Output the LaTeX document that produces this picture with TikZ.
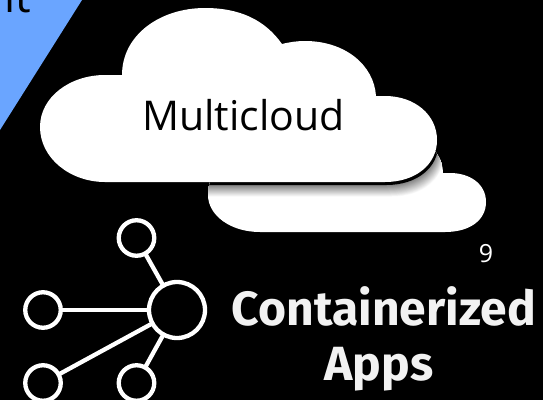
\documentclass[tikz,border=0pt]{standalone}
\usepackage{fontspec}
\setmainfont{Open Sans}
\newfontfamily\headfont{Fira Sans}
\definecolor{skyblue}{HTML}{6AA5FF}
\definecolor{headtext}{HTML}{F2F2F2}
\tikzset{
  hub/.style={circle,draw=white,line width=4.3pt,minimum size=56pt,inner sep=0pt,outer sep=0pt},
  leaf/.style={circle,draw=white,line width=4.3pt,minimum size=35.5pt,inner sep=0pt,outer sep=0pt},
  spoke/.style={draw=white,line width=4.3pt},
}
\def\backcloud{(260,232) -- (445,232) .. controls (470,232) and (486,220) .. (486,202) .. controls (486,184) and (470,173) .. (450,173) -- (443,173) .. controls (443,160) and (435,150) .. (425,140) -- (230,160) .. controls (215,170) and (208,180) .. (208,195) .. controls (208,215) and (230,232) .. (260,232) -- cycle}
\def\maincloud{(105,182) -- (385,182) .. controls (415,182) and (437,165) .. (437,140) .. controls (437,115) and (415,96) .. (385,96) -- (376,96) .. controls (374,65) and (345,41) .. (305,41) .. controls (297,41) and (290,42) .. (282,44) .. controls (265,20) and (240,8) .. (205,8) .. controls (160,8) and (122,35) .. (122,75) -- (105,75) .. controls (70,75) and (40,97) .. (40,127) .. controls (40,158) and (70,182) .. (105,182) -- cycle}
\begin{document}
\begin{tikzpicture}[x=1pt,y=-1pt]
\useasboundingbox (0,0) rectangle (543,400);
\clip (0,0) rectangle (543,400);
\fill[black] (0,0) rectangle (543,400);
\fill[skyblue] (0,0) -- (82,0) -- (0,130) -- cycle;
\node[anchor=base west,inner sep=0pt,text=black,font=\fontsize{44}{44}\selectfont] (cut) at (4,12) {it};
\fill[white] \backcloud;
\begin{scope}
  \clip \backcloud;
  \foreach \i in {24,23,...,1}{
    \pgfmathsetmacro{\g}{50+\i*50/24}
    \fill[white!\g!black,shift={(\i*0.25+1,\i*0.5+3)}] \maincloud;
  }
  \fill[black,shift={(1.5,3)}] \maincloud;
\end{scope}
\fill[white] \maincloud;
\node[anchor=base,inner sep=0pt,text=black,font=\fontsize{41}{41}\selectfont] (multi) at (243.5,130) {Multicloud};
\node[anchor=base,inner sep=0pt,text=white,font=\fontsize{25}{25}\selectfont] (nine) at (486,262) {9};
\node[hub] (h) at (177,310) {};
\node[leaf] (a) at (136.5,238) {};
\node[leaf] (b) at (43,310) {};
\node[leaf] (c) at (43,383) {};
\node[leaf] (d) at (136.5,383) {};
\draw[spoke] (a) -- (h);
\draw[spoke] (b) -- (h);
\draw[spoke] (c) -- (h);
\draw[spoke] (d) -- (h);
\node[anchor=base,inner sep=0pt,text=headtext,font=\headfont\bfseries\fontsize{48}{48}\selectfont] (h1) at (384,325) {Containerized};
\node[anchor=base,inner sep=0pt,text=headtext,font=\headfont\bfseries\fontsize{48}{48}\selectfont] (h2) at (379,380.5) {Apps};
\end{tikzpicture}
\end{document}
